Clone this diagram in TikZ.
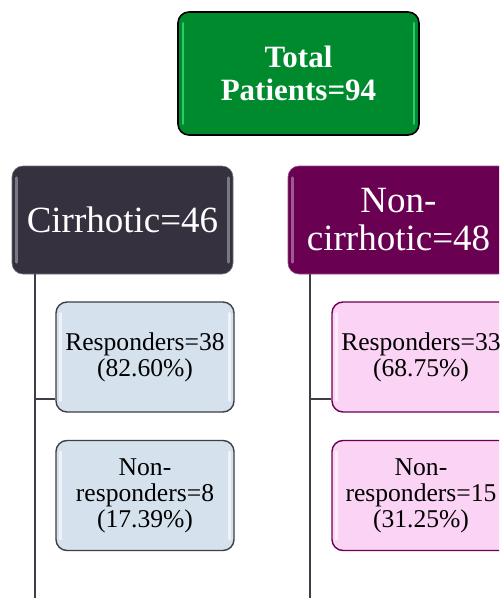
\documentclass[tikz,border=0pt]{standalone}
\usepackage{fontspec}
\setmainfont{Liberation Serif}
\definecolor{tgreen}{HTML}{008A2E}
\definecolor{tgreenhl}{HTML}{2BCB6A}
\definecolor{cdark}{HTML}{35313F}
\definecolor{cpurple}{HTML}{6A0052}
\definecolor{lblue}{HTML}{D5E2EE}
\definecolor{lpink}{HTML}{FBD3F4}
\definecolor{lgray}{HTML}{3E3D48}
\tikzset{
  box/.style={rectangle, rounded corners=11pt, align=center, line width=1.6pt, inner sep=2pt},
  topbox/.style={box, draw=black, fill=tgreen, text=white, font=\bfseries\fontsize{31}{33}\selectfont, minimum width=241pt, minimum height=123pt},
  midbox/.style={box, text=white, font=\fontsize{37}{38}\selectfont, minimum width=221pt, minimum height=108pt, line width=0.6pt},
  leafbox/.style={box, font=\fontsize{25.6}{26}\selectfont, minimum width=178pt, minimum height=110pt, line width=1.4pt},
  conn/.style={draw=lgray, line width=1.6pt},
  hl/.style={line width=2.5pt, line cap=round, opacity=0.35, draw=white}
}
\begin{document}
\begin{tikzpicture}[x=1pt,y=-1pt]
\useasboundingbox (0,0) rectangle (499,598);
\clip (0,0) rectangle (499,598);
\fill[white] (0,0) rectangle (499,598);

% connectors
\coordinate (b1) at (35,598);
\coordinate (b2) at (310,598);

\node[midbox, fill=cdark, draw=cdark!70] (cirr) at (122.5,220) {Cirrhotic=46};
\node[midbox, fill=cpurple, draw=cpurple!70] (ncirr) at (398.5,220) {Non-\\cirrhotic=48};

\draw[conn] (cirr.south -| b1) -- (b1);
\draw[conn] (ncirr.south -| b2) -- (b2);

\node[topbox] (tot) at (298.5,73.5) {Total\\Patients=94};

\node[leafbox, fill=lblue, draw=lgray] (r1) at (145,357) {Responders=38\\(82.60\%)};
\node[leafbox, fill=lblue, draw=lgray] (n1) at (145,495.5) {Non-\\responders=8\\(17.39\%)};
\node[leafbox, fill=lpink, draw=cpurple] (r2) at (421,357) {Responders=33\\(68.75\%)};
\node[leafbox, fill=lpink, draw=cpurple] (n2) at (421,495.5) {Non-\\responders=15\\(31.25\%)};

\draw[conn] ([yshift=14pt]r1.south west) -- ([yshift=14pt]r1.south west -| b1);
\draw[conn] ([yshift=14pt]r2.south west) -- ([yshift=14pt]r2.south west -| b2);

% gloss highlights
\draw[line width=2pt, line cap=round, draw=tgreenhl] ([shift={(6pt,-12pt)}]tot.north west) -- ([shift={(6pt,12pt)}]tot.south west);
\draw[line width=2pt, line cap=round, draw=tgreenhl] ([shift={(-6pt,-12pt)}]tot.north east) -- ([shift={(-6pt,12pt)}]tot.south east);
\draw[hl] ([shift={(5pt,-12pt)}]cirr.north west) -- ([shift={(5pt,12pt)}]cirr.south west);
\draw[hl] ([shift={(-5pt,-12pt)}]cirr.north east) -- ([shift={(-5pt,12pt)}]cirr.south east);
\draw[hl] ([shift={(5pt,-12pt)}]ncirr.north west) -- ([shift={(5pt,12pt)}]ncirr.south west);
\foreach \n in {r1,n1,r2,n2}{
  \draw[hl, opacity=0.6] ([shift={(5pt,-12pt)}]\n.north west) -- ([shift={(5pt,12pt)}]\n.south west);
  \draw[hl, opacity=0.6] ([shift={(-5pt,-12pt)}]\n.north east) -- ([shift={(-5pt,12pt)}]\n.south east);
}
\end{tikzpicture}
\end{document}
